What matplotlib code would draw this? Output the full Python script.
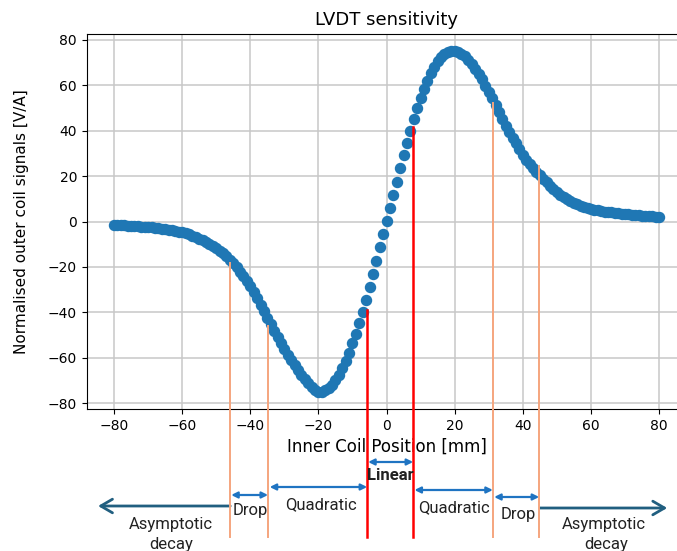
import matplotlib
matplotlib.use('Agg')
import matplotlib.pyplot as plt
from matplotlib import transforms

# ---- data ----
position_mm = list(range(-80, 81))
signal = [
    -1.5, -1.6, -1.7, -1.7, -1.8, -1.9, -2.0, -2.1, -2.2, -2.3,
    -2.4, -2.6, -2.8, -3.0, -3.2, -3.4, -3.7, -3.9, -4.2, -4.5,
    -4.8, -5.2, -5.7, -6.2, -6.8, -7.5, -8.2, -9.0, -9.8, -10.7,
    -11.7, -12.8, -14.0, -15.3, -16.8, -18.4, -20.2, -22.1, -24.1, -26.3,
    -28.6, -31.1, -33.8, -36.6, -39.5, -42.4, -45.3, -48.1, -50.9, -53.6,
    -56.2, -58.7, -61.1, -63.4, -65.6, -67.6, -69.5, -71.3, -72.9, -74.2,
    -75.0, -74.9, -74.3, -73.3, -71.8, -69.8, -67.4, -64.5, -61.3, -57.7,
    -53.7, -49.4, -44.8, -39.9, -34.6, -29.0, -23.2, -17.2, -11.4, -5.7,
    0.2,
    5.8, 11.6, 17.5, 23.4, 29.2, 34.8, 40.1, 45.1, 49.8, 54.2,
    58.3, 62.0, 65.3, 68.2, 70.6, 72.5, 73.9, 74.8, 75.2, 75.2,
    74.8, 74.0, 72.8, 71.3, 69.5, 67.4, 65.1, 62.6, 59.9, 57.1,
    54.2, 51.2, 48.2, 45.2, 42.3, 39.5, 36.9, 34.4, 31.8, 29.4,
    27.3, 25.4, 23.6, 22.0, 20.5, 18.8, 17.2, 15.7, 14.3, 13.0,
    11.8, 10.8, 9.8, 9.0, 8.3, 7.6, 7.0, 6.5, 6.0, 5.6,
    5.2, 4.9, 4.6, 4.4, 4.2, 4.0, 3.8, 3.6, 3.4, 3.3,
    3.1, 3.0, 2.8, 2.7, 2.6, 2.5, 2.4, 2.3, 2.2, 2.1,
]
xticks = [-80, -60, -40, -20, 0, 20, 40, 60, 80]
yticks = [-80, -60, -40, -20, 0, 20, 40, 60, 80]

# region boundaries (x in mm) and where each marker line starts (signal value)
boundaries = [-45.9, -34.8, -5.7, 7.8, 31.2, 44.8]
boundary_tops = [-18.4, -46.0, -39.0, 41.6, 52.0, 24.6]
boundary_kind = ['soft', 'soft', 'hard', 'hard', 'soft', 'soft']
asym_ends = [-84.7, 82.4]

W, H = 677, 551
fig = plt.figure(figsize=(W / 100, H / 100), dpi=100)
ax = fig.add_axes([86.8 / W, 142.2 / H, 599.5 / W, 375 / H])

ax.scatter(position_mm, signal, s=52, color='#1f77b4', zorder=3)
ax.set_xlim(-88, 88)
ax.set_ylim(-82.5, 82.7)
ax.set_xticks(xticks)
ax.set_yticks(yticks)
ax.tick_params(labelsize=10)
ax.grid(True, color='#c8c8c8', lw=1.1)
ax.set_axisbelow(True)
ax.set_title('LVDT sensitivity', fontsize=13)
ax.set_xlabel('Inner Coil Position [mm]', fontsize=12)
ax.set_ylabel('Normalised outer coil signals [V/A]', fontsize=11)
ax.yaxis.set_label_coords(-0.097, 0.5)


def fy(py):
    return 1 - py / H


# bottom of the marker lines in data units
y_bottom = ax.transData.inverted().transform(fig.transFigure.transform((0, fy(537))))[1]

for b, top, kind in zip(boundaries, boundary_tops, boundary_kind):
    if kind == 'hard':
        ax.plot([b, b], [top, y_bottom], color='#ff0000', lw=1.8, clip_on=False, zorder=4)
    else:
        ax.plot([b, b], [top, y_bottom], color='#f5a57e', lw=1.4, clip_on=False, zorder=4)

trans = transforms.blended_transform_factory(ax.transData, fig.transFigure)


def darrow(x0, x1, py):
    ax.annotate('', xy=(x1, fy(py)), xytext=(x0, fy(py)), xycoords=trans, textcoords=trans,
                arrowprops=dict(arrowstyle='<|-|>', color='#1f74c2', lw=1.6,
                                mutation_scale=9, shrinkA=0, shrinkB=0),
                annotation_clip=False)


def sarrow(x0, x1, py):
    ax.annotate('', xy=(x1, fy(py)), xytext=(x0, fy(py)), xycoords=trans, textcoords=trans,
                arrowprops=dict(arrowstyle='->, head_length=0.6, head_width=0.35',
                                color='#215f80', lw=2.0, mutation_scale=14,
                                shrinkA=0, shrinkB=0),
                annotation_clip=False)


darrow(boundaries[2] + 0.3, boundaries[3], 462)
darrow(boundaries[1] + 0.5, boundaries[2], 487)
darrow(boundaries[0] + 0.3, boundaries[1], 495)
sarrow(boundaries[0], asym_ends[0], 506)
darrow(boundaries[3] + 0.4, boundaries[4], 490)
darrow(boundaries[4] + 0.4, boundaries[5], 497)
sarrow(boundaries[5] + 0.3, asym_ends[1], 508)

tfont = ['Roboto', 'DejaVu Sans']


def label(px, py, s, bold=False):
    fig.text(px / W, fy(py), s, ha='center', va='center', family=tfont,
             fontsize=12, color='#222222', fontweight='bold' if bold else 'normal')


label(390, 476, 'Linear', bold=True)
label(321, 505, 'Quadratic')
label(250, 511, 'Drop')
label(171, 524, 'Asymptotic')
label(171, 544, 'decay')
label(454, 508, 'Quadratic')
label(518, 514, 'Drop')
label(604, 524, 'Asymptotic')
label(606, 544, 'decay')

fig.savefig('out.png', dpi=100)
